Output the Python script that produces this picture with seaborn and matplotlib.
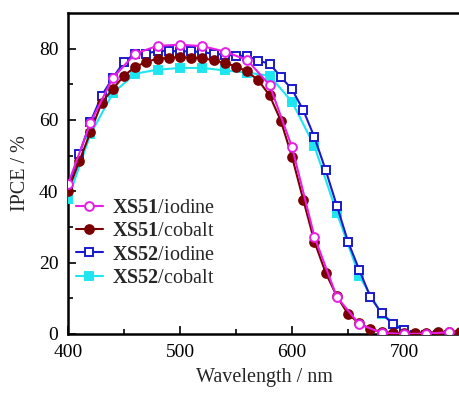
import numpy as np
import pandas as pd
import matplotlib
matplotlib.use("Agg")
import matplotlib.pyplot as plt
import seaborn as sns

# ---- data ----
wl_10 = [400, 410, 420, 430, 440, 450, 460, 470, 480, 490, 500, 510, 520, 530, 540,
         550, 560, 570, 580, 590, 600, 610, 620, 630, 640, 650, 660, 670, 680, 690,
         700, 710, 720, 730, 740, 750]
wl_20 = [400, 420, 440, 460, 480, 500, 520, 540, 560, 580, 600, 620, 640, 660, 680,
         700, 720, 740]

xs51_cobalt = [40.0, 48.4, 56.6, 64.8, 68.7, 72.4, 74.9, 76.3, 77.2, 77.4, 77.7, 77.4,
               77.4, 76.7, 76.0, 75.0, 73.6, 71.1, 66.9, 59.8, 49.7, 37.7, 25.9, 17.2,
               10.6, 5.6, 3.0, 1.4, 0.6, 0.3, 0.2, 0.3, 0.4, 0.5, 0.6, 0.7]
xs52_iodine = [41.0, 50.4, 59.4, 66.8, 71.8, 76.3, 78.6, 78.6, 79.4, 79.4, 79.2, 79.3,
               79.0, 78.6, 78.3, 78.0, 78.0, 76.6, 75.8, 72.1, 68.6, 62.8, 55.2, 46.0,
               36.0, 25.9, 18.0, 10.4, 5.8, 2.8, 1.0, -0.3, -0.4, -0.4, -0.3, -0.3]
xs51_iodine = [42.0, 59.2, 71.8, 78.6, 80.8, 81.1, 80.7, 79.2, 76.8, 69.8, 52.4, 27.3,
               10.4, 2.8, 0.3, 0.0, 0.1, 0.5]
xs52_cobalt = [37.8, 56.0, 67.5, 73.0, 74.1, 74.6, 74.6, 73.9, 73.3, 72.4, 65.1, 52.7,
               34.0, 16.3, 5.6, 1.1, -0.3, -0.3]

labels = [r"$\mathbf{XS51}$/iodine", r"$\mathbf{XS51}$/cobalt",
          r"$\mathbf{XS52}$/iodine", r"$\mathbf{XS52}$/cobalt"]
x_ticks = [400, 500, 600, 700]
y_ticks = [0, 20, 40, 60, 80]

# ---- style ----
sns.set_theme(style="white")
plt.rcParams["font.family"] = ["Liberation Serif", "DejaVu Serif"]
plt.rcParams["mathtext.fontset"] = "custom"
plt.rcParams["mathtext.rm"] = "Liberation Serif"
plt.rcParams["mathtext.bf"] = "Liberation Serif:bold"
plt.rcParams["mathtext.it"] = "Liberation Serif:italic"

fig = plt.figure(figsize=(4.6, 3.94), dpi=100)
ax = fig.add_axes([68 / 460, 60 / 394, 392 / 460, 321 / 394])

series = [
    dict(x=wl_20, y=xs51_iodine, color="#e61ee6", marker="o", mfc="white", z=6),
    dict(x=wl_10, y=xs51_cobalt, color="#7a0000", marker="o", mfc="#7a0000", z=5),
    dict(x=wl_10, y=xs52_iodine, color="#1a1acc", marker="s", mfc="white", z=4),
    dict(x=wl_20, y=xs52_cobalt, color="#1ee6f0", marker="s", mfc="#1ee6f0", z=3),
]
draw_order = [3, 2, 1, 0]
handles = [None] * 4
for i in draw_order:
    s = series[i]
    df = pd.DataFrame({"wl": s["x"], "ipce": s["y"]})
    n0 = len(ax.lines)
    sns.lineplot(data=df, x="wl", y="ipce", ax=ax, color=s["color"], lw=1.5,
                 marker=s["marker"], markersize=6.3 if s["marker"] == "o" else 5.3,
                 markerfacecolor=s["mfc"], markeredgecolor=s["color"],
                 markeredgewidth=1.4, zorder=s["z"])
    handles[i] = ax.lines[n0]

ax.set_xlim(400, 750)
ax.set_ylim(0, 90)
ax.set_xticks(x_ticks)
ax.set_yticks(y_ticks)
ax.set_xticks([450, 550, 650, 750], minor=True)
ax.set_yticks([10, 30, 50, 70], minor=True)
ax.tick_params(which="both", direction="in", width=1.2, colors="black",
               labelsize=14)
ax.tick_params(which="major", length=6)
ax.tick_params(which="minor", length=3.5)
ax.tick_params(axis="x", which="both", bottom=True, top=False, pad=7)
ax.tick_params(axis="y", which="both", left=True, right=False, pad=7)
for side in ["left", "bottom", "top", "right"]:
    ax.spines[side].set_color("black")
    ax.spines[side].set_linewidth(1.8)
ax.spines["right"].set_linewidth(0.8)
ax.spines["right"].set_color("#999999")

ax.set_xlabel("Wavelength / nm", fontsize=14.5, labelpad=5)
ax.set_ylabel("IPCE / %", fontsize=14.5, labelpad=6)

leg = ax.legend(handles=handles, labels=labels, loc="upper left",
                bbox_to_anchor=(0.02, 0.42), frameon=False, fontsize=14.5,
                handlelength=1.35, handletextpad=0.45, labelspacing=0.2,
                borderpad=0, borderaxespad=0)
leg.set_zorder(10)

fig.savefig("out.png", dpi=100)
